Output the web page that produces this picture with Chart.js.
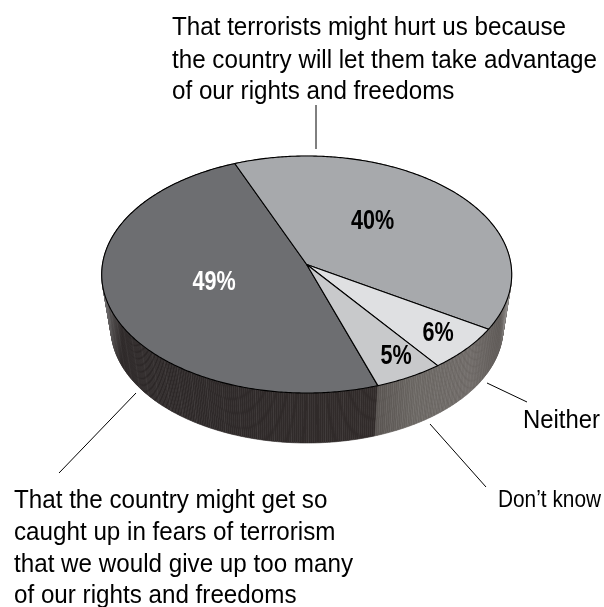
<!DOCTYPE html>
<html>
<head>
<meta charset="utf-8">
<title>Fears about terrorism and freedoms</title>
<style>
  html, body { margin: 0; padding: 0; background: #fff; }
  canvas { display: block; }
</style>
<script src="https://cdn.jsdelivr.net/npm/chart.js@4"></script>
</head>
<body>
<canvas id="pie" width="604" height="607"></canvas>
<script>
// Survey answers, in drawing order clockwise
const categories = [
  "That the country might get so caught up in fears of terrorism that we would give up too many of our rights and freedoms",
  "That terrorists might hurt us because the country will let them take advantage of our rights and freedoms",
  "Neither",
  "Don't know"
];
const shares = [49, 40, 6, 5];
const topColors = ["#6d6e71", "#a7a9ac", "#dfe0e2", "#c8c9cb"];
const valueColors = ["#ffffff", "#000000", "#000000", "#000000"];

// Rim shading, as [x, colour] stops running left to right
const darkRim = [[100, "#77777a"], [110, "#555252"], [122, "#2b2626"], [200, "#2e2929"], [378, "#312b2a"]];
const lightRim = [[375, "#585350"], [415, "#6a6662"], [470, "#6c6764"], [500, "#5a5552"], [512, "#8a8785"]];
const rimShades = [darkRim, lightRim, lightRim, lightRim];
const ribAlpha = [0.045, 0.05, 0.05, 0.05];
const ribEvery = [8, 3, 3, 3];

const FONT = '"Liberation Sans", Arial, sans-serif';

// Perspective disc: upper face, lower face, and the foreshortening of the hub
const face = { cx: 306.7, cy: 274.5, rx: 205, ry: 118.5 };
const base = { cx: 307, cy: 328, rx: 196, ry: 115 };
const tilt = (264.5 - face.cy) / face.ry;

// Maps a point of the library's circular layout onto a perspective ellipse
function project(ellipse, nx, ny) {
  const d = 1 + tilt * ny;
  const px = nx * Math.sqrt(1 - tilt * tilt) / d;
  const py = (ny + tilt) / d;
  return [ellipse.cx + ellipse.rx * px, ellipse.cy + ellipse.ry * py];
}

function rimPoints(ellipse, start, end) {
  const steps = Math.max(2, Math.ceil((end - start) / 0.01));
  const out = [];
  for (let i = 0; i <= steps; i++) {
    const a = start + (end - start) * i / steps;
    out.push(project(ellipse, Math.cos(a), Math.sin(a)));
  }
  return out;
}

function trace(ctx, pts) {
  pts.forEach((p, i) => i ? ctx.lineTo(p[0], p[1]) : ctx.moveTo(p[0], p[1]));
}

// Each text block is squeezed to the width of its widest line
const textBlocks = [
  { size: 25, x: 172, width: 425, lines: [
    ["That terrorists might hurt us because", 35],
    ["the country will let them take advantage", 68],
    ["of our rights and freedoms", 99]
  ]},
  { size: 25, x: 14, width: 339, lines: [
    ["That the country might get so", 508],
    ["caught up in fears of terrorism", 540],
    ["that we would give up too many", 572],
    ["of our rights and freedoms", 603]
  ]},
  { size: 25, x: 523, width: 77, lines: [["Neither", 428]] },
  { size: 24, x: 498, width: 103, lines: [["Don\u2019t know", 507]] }
];

const leaders = [
  [[316, 105], [316, 149]],
  [[136, 393], [59, 473]],
  [[487, 383], [527, 402]],
  [[430, 424], [486, 487]]
];

const valueSpots = [[214, 290], [372.5, 229], [438, 341], [396, 364]];
const VALUE_SQUEEZE = 0.8;

const perspectivePie = {
  id: "perspectivePie",
  beforeDatasetsDraw(chart) {
    const ctx = chart.ctx;
    const arcs = chart.getDatasetMeta(0).data;

    // Side wall first, in thin strips, so the upper face covers its far half
    arcs.forEach((arc, i) => {
      const { startAngle, endAngle } = arc.getProps(["startAngle", "endAngle"], true);
      const upper = rimPoints(face, startAngle, endAngle);
      const lower = rimPoints(base, startAngle, endAngle);
      const grad = ctx.createLinearGradient(100, 0, 515, 0);
      rimShades[i].forEach(([x, c]) => grad.addColorStop((x - 100) / 415, c));
      ctx.fillStyle = grad;
      ctx.strokeStyle = grad;
      ctx.lineWidth = 0.6;
      for (let k = 0; k < upper.length - 1; k++) {
        ctx.beginPath();
        trace(ctx, [upper[k], upper[k + 1], lower[k + 1], lower[k]]);
        ctx.closePath();
        ctx.fill();
        ctx.stroke();
      }
      // Fine vertical ribbing along the wall
      ctx.strokeStyle = "rgba(255,255,255," + ribAlpha[i] + ")";
      ctx.lineWidth = 1;
      for (let k = 0; k < upper.length; k += ribEvery[i]) {
        ctx.beginPath();
        trace(ctx, [upper[k], lower[k]]);
        ctx.stroke();
      }
    });

    // Upper face wedges
    const hub = project(face, 0, 0);
    ctx.lineWidth = 1.1;
    ctx.lineJoin = "round";
    ctx.strokeStyle = "#000";
    arcs.forEach((arc, i) => {
      const { startAngle, endAngle } = arc.getProps(["startAngle", "endAngle"], true);
      ctx.beginPath();
      ctx.moveTo(hub[0], hub[1]);
      rimPoints(face, startAngle, endAngle).forEach(p => ctx.lineTo(p[0], p[1]));
      ctx.closePath();
      ctx.fillStyle = arc.options.backgroundColor;
      ctx.fill();
      ctx.stroke();
    });
    return false;
  },
  afterDraw(chart) {
    const ctx = chart.ctx;
    ctx.save();
    ctx.strokeStyle = "#000";
    ctx.lineWidth = 1;
    leaders.forEach(l => { ctx.beginPath(); trace(ctx, l); ctx.stroke(); });

    ctx.fillStyle = "#000";
    ctx.textAlign = "left";
    ctx.textBaseline = "alphabetic";
    textBlocks.forEach(b => {
      ctx.font = b.size + "px " + FONT;
      const widest = Math.max(...b.lines.map(([t]) => ctx.measureText(t).width));
      const squeeze = b.width / widest;
      b.lines.forEach(([t, y]) => {
        ctx.save();
        ctx.translate(b.x, y);
        ctx.scale(squeeze, 1);
        ctx.fillText(t, 0, 0);
        ctx.restore();
      });
    });

    ctx.textAlign = "center";
    ctx.font = "bold 27px " + FONT;
    shares.forEach((v, i) => {
      ctx.save();
      ctx.translate(valueSpots[i][0], valueSpots[i][1]);
      ctx.scale(VALUE_SQUEEZE, 1);
      ctx.fillStyle = valueColors[i];
      ctx.fillText(v + "%", 0, 0);
      ctx.restore();
    });
    ctx.restore();
  }
};

new Chart(document.getElementById("pie"), {
  type: "pie",
  data: {
    labels: categories,
    datasets: [{ data: shares, backgroundColor: topColors, borderColor: "#000", borderWidth: 1 }]
  },
  options: {
    responsive: false,
    animation: false,
    rotation: 161.3,
    plugins: { legend: { display: false }, tooltip: { enabled: false } }
  },
  plugins: [perspectivePie]
});
</script>
</body>
</html>
